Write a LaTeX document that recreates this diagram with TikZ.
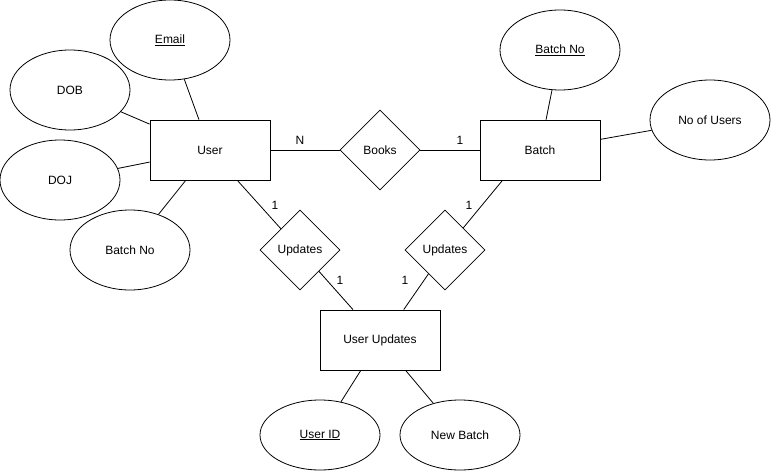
\documentclass[tikz,border=0pt]{standalone}
\usepackage{fontspec}
\setmainfont{Liberation Sans}
\usetikzlibrary{shapes.geometric}
\tikzset{
  entity/.style={draw, rectangle, minimum width=120pt, minimum height=60pt, inner sep=0pt},
  attr/.style={draw, ellipse, minimum width=120pt, minimum height=80pt, inner sep=0pt},
  lowattr/.style={attr, minimum height=70pt},
  rel/.style={draw, diamond, minimum width=80pt, minimum height=80pt, inner sep=0pt},
  card/.style={inner sep=0pt}
}
\begin{document}
\begin{tikzpicture}[x=1pt, y=-1pt, line width=0.8pt,
    every node/.append style={font=\fontsize{12}{14}\selectfont}]
      \useasboundingbox (0,0) rectangle (771,471);
      \draw
        (210,150) node[entity] (user){User}
        (540,150) node[entity] (batch){Batch}
        (380,340) node[entity] (userupd){User Updates}
        (380,150) node[rel] (books){Books}
        (300,250) node[rel] (updl){Updates}
        (445,250) node[rel] (updr){Updates}
        (170,40) node[attr] (email){\underline{Email}}
        (70,90) node[attr] (dob){DOB}
        (60,180) node[attr] (doj){DOJ}
        (130,250) node[attr] (ubatchno){Batch No}
        (560,50) node[attr] (batchno){\underline{Batch No}}
        (710,120) node[attr] (nousers){No of Users}
        (320,435) node[lowattr] (userid){\underline{User ID}}
        (460,435) node[lowattr] (newbatch){New Batch};
      \draw
        (300,140) node[card] (cn){N}
        (460,140) node[card] (cb){1}
        (275,205) node[card] (cul){1}
        (340,280) node[card] (cuul){1}
        (405,280) node[card] (cuur){1}
        (469,205) node[card] (cur){1};
      \begin{scope}[-]
        \draw (user) to (email);
        \draw (user) to (dob);
        \draw (user) to (doj);
        \draw (user) to (ubatchno);
        \draw (user) to (books);
        \draw (books) to (batch);
        \draw (batch) to (batchno);
        \draw (batch) to (nousers);
        \draw (user) to (updl);
        \draw (updl) to (userupd);
        \draw (updr) to (batch.219);
        \draw (updr) to (userupd.52.5);
        \draw (userupd) to (userid);
        \draw (userupd) to (newbatch);
      \end{scope}
    \end{tikzpicture}
\end{document}
